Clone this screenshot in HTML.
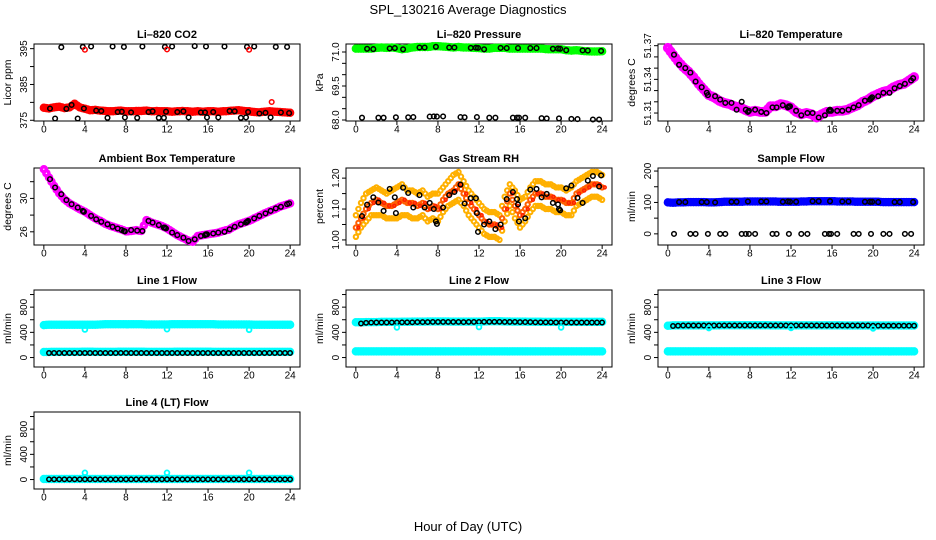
<!DOCTYPE html>
<html><head><meta charset="utf-8">
<style>
html,body{margin:0;padding:0;background:#fff;}
svg{display:block;font-family:"Liberation Sans",Arial,sans-serif;}
</style></head>
<body>
<svg id="chart" width="936" height="540" viewBox="0 0 936 540" xmlns="http://www.w3.org/2000/svg">
<text x="468" y="14" text-anchor="middle" font-size="13">SPL_130216  Average Diagnostics</text>
<text x="468" y="531" text-anchor="middle" font-size="13">Hour of Day (UTC)</text>
</svg>
<script>
const xTicks=[0,4,8,12,16,20,24];
const blackHours=[0.6,1.1,1.7,2.2,2.7,3.3,3.8,3.9,4.6,5.1,5.6,6.2,6.7,7.2,7.6,7.8,7.9,8.5,9.1,9.6,10.2,10.6,11.2,11.7,11.8,11.9,12.5,13.0,13.6,14.1,14.7,15.3,15.7,15.8,15.9,16.5,17.0,17.6,18.1,18.6,19.2,19.7,19.8,19.9,20.5,21.0,21.6,22.1,22.6,23.1,23.7,23.9];
const outlierHours=[4,12,20];

// CO2
const co2Red=[378.5,378.3,378.6,378.8,378.4,378.6,379.6,378.6,378.2,377.8,377.9,377.7,377.6,377.5,377.6,377.7,377.5,377.5,377.6,377.6,377.7,377.5,377.6,377.5,377.5,377.4,377.5,377.6,377.5,377.4,377.5,377.4,377.5,377.5,377.4,377.5,377.6,377.7,377.8,377.6,377.5,377.3,377.2,377.4,377.5,377.4,377.3,377.2,377.1];
const co2Black=[378.3,375.5,395.4,378.2,379.3,375.5,395.5,378.3,395.6,377.7,377.6,375.7,395.6,377.3,377.4,395.5,375.8,377.2,375.7,395.6,377.3,377.5,375.7,375.7,395.5,377.4,395.6,377.3,377.5,375.8,395.7,377.2,377.2,395.6,375.8,377.3,375.8,395.6,377.6,377.5,375.7,375.8,395.5,377.3,395.6,376.9,377.1,375.8,395.5,377.2,395.5,377.0];
const co2OutHours=[4,12,20,22.2];
const co2OutValues=[394.7,394.8,394.7,380.1];

// Pressure
const presGreen=[71.15,71.15,71.15,71.15,71.18,71.2,71.18,71.2,71.17,71.12,71.15,71.2,71.22,71.22,71.22,71.25,71.25,71.24,71.22,71.2,71.22,71.2,71.2,71.18,71.17,71.15,71.15,71.18,71.18,71.18,71.15,71.15,71.15,71.15,71.15,71.15,71.15,71.13,71.12,71.12,71.12,71.08,71.06,71.08,71.05,71.03,71.02,71.02,71.03];
const presBlack=[68.1,71.14,71.13,68.1,68.1,71.16,71.17,68.12,71.12,68.12,68.13,71.2,71.2,68.15,68.16,71.23,68.15,68.16,71.2,71.2,68.13,68.12,71.18,71.19,68.13,71.18,71.12,68.1,68.1,71.18,71.17,68.1,68.1,71.17,68.1,68.1,71.17,71.17,68.08,68.07,71.14,71.15,68.07,71.14,71.08,68.05,68.04,71.07,71.06,68.02,68.02,71.05];

// Li-820 temperature
const liTempMagenta=[51.368,51.362,51.356,51.351,51.347,51.342,51.336,51.331,51.326,51.324,51.321,51.319,51.318,51.316,51.315,51.313,51.311,51.312,51.311,51.311,51.316,51.316,51.318,51.317,51.315,51.311,51.309,51.310,51.309,51.306,51.309,51.311,51.311,51.312,51.312,51.313,51.315,51.317,51.320,51.322,51.325,51.327,51.329,51.330,51.333,51.335,51.336,51.339,51.342];
const liTempBlack=[51.362,51.353,51.350,51.346,51.338,51.333,51.328,51.326,51.325,51.322,51.319,51.319,51.313,51.320,51.313,51.311,51.312,51.313,51.311,51.310,51.315,51.315,51.317,51.315,51.316,51.316,51.312,51.308,51.310,51.310,51.306,51.308,51.312,51.313,51.312,51.312,51.312,51.313,51.315,51.317,51.321,51.322,51.323,51.324,51.325,51.328,51.328,51.332,51.334,51.336,51.339,51.341];

// Ambient box temperature
const ambMagenta=[33.5,32.5,31.5,30.6,29.9,29.4,29.05,28.7,28.4,28.0,27.6,27.3,26.95,26.7,26.5,26.3,26.05,26.1,26.2,26.1,27.4,27.1,26.9,26.7,26.4,26.0,25.6,25.3,25.0,24.8,25.5,25.6,25.7,25.8,25.9,26.1,26.25,26.6,26.9,27.1,27.3,27.6,27.9,28.2,28.45,28.7,29.0,29.2,29.4];
const ambBlack=[32.3,31.3,30.5,29.8,29.3,28.9,28.5,28.4,27.9,27.5,27.2,26.9,26.6,26.4,26.2,26.1,26.05,26.2,26.15,26.1,27.3,27.1,26.8,26.5,26.5,26.4,25.9,25.6,25.3,24.9,25.1,25.5,25.6,25.7,25.7,25.8,25.9,26.0,26.3,26.6,26.9,27.1,27.2,27.3,27.6,27.9,28.2,28.5,28.8,29.0,29.3,29.4];

// Gas stream RH
const rhUpper=[1.08,1.12,1.15,1.16,1.17,1.16,1.15,1.16,1.17,1.18,1.16,1.16,1.15,1.16,1.14,1.15,1.15,1.17,1.19,1.21,1.22,1.19,1.16,1.14,1.12,1.10,1.09,1.09,1.08,1.14,1.18,1.16,1.13,1.14,1.17,1.19,1.19,1.18,1.18,1.17,1.17,1.16,1.17,1.19,1.20,1.21,1.22,1.22,1.21];
const rhMid=[1.04,1.07,1.10,1.12,1.13,1.12,1.11,1.11,1.12,1.13,1.12,1.12,1.11,1.12,1.10,1.11,1.10,1.13,1.15,1.16,1.18,1.15,1.12,1.10,1.08,1.06,1.05,1.05,1.04,1.10,1.15,1.11,1.08,1.10,1.13,1.15,1.15,1.14,1.14,1.13,1.13,1.12,1.12,1.15,1.16,1.17,1.18,1.18,1.17];
const rhLower=[1.01,1.04,1.06,1.08,1.08,1.08,1.07,1.07,1.07,1.08,1.08,1.07,1.07,1.08,1.06,1.07,1.06,1.09,1.11,1.12,1.13,1.11,1.08,1.06,1.04,1.02,1.01,1.01,1.00,1.06,1.11,1.07,1.04,1.06,1.09,1.11,1.11,1.10,1.10,1.09,1.09,1.08,1.08,1.11,1.12,1.13,1.14,1.14,1.13];
const rhBlack=[1.077,1.114,1.138,1.121,1.094,1.165,1.138,1.087,1.169,1.152,1.105,1.145,1.105,1.12,1.10,1.06,1.052,1.105,1.145,1.155,1.179,1.118,1.135,1.135,1.087,1.026,1.05,1.06,1.035,1.05,1.132,1.155,1.132,1.115,1.06,1.07,1.163,1.165,1.138,1.149,1.12,1.115,1.10,1.096,1.167,1.176,1.136,1.12,1.192,1.207,1.173,1.209];

// Sample flow
const sampleBlue=[100,99,100,100,101,101,101,101,100,100,101,102,102,102,102,103,103,103,103,103,103,103,102,102,102,102,103,103,104,104,104,104,104,103,103,103,103,102,102,102,102,102,101,101,101,101,101,101,101];
const sampleBlack=[0,101,101,0,0,101,101,0,100,0,0,102,102,0,0,103,0,0,103,103,0,0,102,103,0,102,102,0,0,104,104,0,0,104,0,0,103,103,0,0,102,102,0,102,101,0,0,101,101,0,0,101];

// Line 1 flow
const l1CyanHigh=[515,520,520,522,522,522,522,522,522,520,522,525,528,528,528,528,528,528,528,528,525,525,525,525,525,528,528,528,528,528,530,530,530,528,525,525,525,525,525,525,525,522,522,522,522,522,522,522,522];
const l1CyanLow=[88,88,90,90,90,90,90,90,92,92,90,90,90,90,90,92,92,92,92,92,90,90,90,90,90,90,92,92,92,92,92,92,92,90,90,90,90,90,90,90,90,90,90,90,90,90,90,90,90];
const l1Black=[72,72,72,72,72,72,72,72,72,72,72,72,72,72,74,74,72,72,72,72,72,72,72,72,72,72,72,72,72,72,72,72,72,72,72,72,72,72,72,72,72,72,72,72,72,72,72,72];
const l1Out=[445,450,440];

// Line 2 flow
const l2CyanHigh=[560,560,562,562,562,565,565,565,565,568,568,570,570,570,572,572,572,572,572,570,570,570,570,570,570,572,575,575,575,572,572,570,570,570,568,568,568,565,565,565,565,565,565,565,565,565,565,565,565];
const l2CyanLow=[97,97,97,97,97,97,97,97,97,97,97,97,97,97,97,97,97,97,97,97,97,97,97,97,97,97,97,97,97,97,97,97,97,97,97,97,97,97,97,97,97,97,97,97,97,97,97,97,97];
const l2Black=[540,552,555,556,556,556,558,558,560,560,560,562,562,562,565,565,565,565,565,565,562,565,565,565,568,568,568,568,565,565,565,562,562,562,560,560,560,560,558,558,558,556,556,556,556,556,556,556];
const l2Out=[478,485,478];

// Line 3 flow
const l3CyanHigh=[505,510,510,510,510,510,510,510,510,510,510,512,512,512,512,512,512,512,512,512,510,510,510,510,510,510,510,510,510,510,510,510,510,510,510,508,508,508,508,508,508,508,508,508,508,508,508,508,508];
const l3CyanLow=[98,98,98,98,98,98,98,98,98,98,98,98,98,98,98,98,98,98,98,98,98,98,98,98,98,98,98,98,98,98,98,98,98,98,98,98,98,98,98,98,98,98,98,98,98,98,98,98,98];
const l3Black=[500,505,508,508,508,508,508,508,508,510,510,510,510,510,510,510,510,510,510,510,510,510,510,510,510,510,510,510,508,508,508,508,508,508,508,508,508,508,508,506,506,506,506,506,506,506,506,506];
const l3Out=[468,470,462];

// Line 4 flow
const l4CyanHigh=[8,8,8,8,8,8,8,8,8,8,8,8,8,8,8,8,8,8,8,8,8,8,8,8,8,8,8,8,8,8,8,8,8,8,8,8,8,8,8,8,8,8,8,8,8,8,8,8,8];
const l4Black=[4,4,4,4,4,4,4,4,4,4,4,4,4,4,4,4,4,4,4,4,4,4,4,4,4,4,4,4,4,4,4,4,4,4,4,4,4,4,4,4,4,4,4,4,4,4,4,4];
const l4Out=[107,107,107];

const svg=document.getElementById('chart');
const NS='http://www.w3.org/2000/svg';
const BW=266,BH=77;
const rowTops=[44,168,290,412];
function mk(tag,attrs,parent){const e=document.createElementNS(NS,tag);for(const k in attrs)e.setAttribute(k,attrs[k]);(parent||svg).appendChild(e);return e;}

const panels=[
 {key:'co2',col:0,row:0,title:'Li–820 CO2',ylab:'Licor ppm',ymin:374.8,ymax:396.3,ticks:[375,380,385,390,395],labels:['375','','385','','395']},
 {key:'pressure',col:1,row:0,title:'Li–820 Pressure',ylab:'kPa',ymin:67.956,ymax:71.353,ticks:[68,68.5,69,69.5,70,70.5,71],labels:['68.0','','','69.5','','','71.0']},
 {key:'li-temp',col:2,row:0,title:'Li–820 Temperature',ylab:'degrees C',ymin:51.3029,ymax:51.3715,ticks:[51.31,51.32,51.33,51.34,51.35,51.36,51.37],labels:['51.31','','','51.34','','','51.37']},
 {key:'ambient-temp',col:0,row:1,title:'Ambient Box Temperature',ylab:'degrees C',ymin:24.42,ymax:33.64,ticks:[26,28,30,32],labels:['26','','30','']},
 {key:'rh',col:1,row:1,title:'Gas Stream RH',ylab:'percent',ymin:0.9836,ymax:1.2328,ticks:[1.0,1.05,1.1,1.15,1.2],labels:['1.00','','1.10','','1.20']},
 {key:'sample-flow',col:2,row:1,title:'Sample Flow',ylab:'ml/min',ymin:-35.5,ymax:209.7,ticks:[0,50,100,150,200],labels:['0','','100','','200']},
 {key:'line1-flow',col:0,row:2,title:'Line 1 Flow',ylab:'ml/min',ymin:-150,ymax:1072,ticks:[0,200,400,600,800,1000],labels:['0','','400','','800','']},
 {key:'line2-flow',col:1,row:2,title:'Line 2 Flow',ylab:'ml/min',ymin:-150,ymax:1072,ticks:[0,200,400,600,800,1000],labels:['0','','400','','800','']},
 {key:'line3-flow',col:2,row:2,title:'Line 3 Flow',ylab:'ml/min',ymin:-150,ymax:1072,ticks:[0,200,400,600,800,1000],labels:['0','','400','','800','']},
 {key:'line4-flow',col:0,row:3,title:'Line 4 (LT) Flow',ylab:'ml/min',ymin:-150,ymax:1072,ticks:[0,200,400,600,800,1000],labels:['0','','400','','800','']}
];

function bx(p){return p.col*312+34;}
function by(p){return rowTops[p.row];}
function sx(p,h){return bx(p)+(h+0.96)*BW/25.92;}
function sy(p,v){return by(p)+(p.ymax-v)/(p.ymax-p.ymin)*BH;}

function pt(g,p,h,v,color,r,sw,name){
  const c=mk('circle',{cx:sx(p,h).toFixed(1),cy:sy(p,v).toFixed(1),r:r,fill:'none',stroke:color,'stroke-width':sw},g);
  
  
}
function evenSeries(g,p,arr,h0,h1,color,r,sw,name){
  const n=arr.length;
  for(let i=0;i<n;i++){pt(g,p,h0+i*(h1-h0)/(n-1),arr[i],color,r,sw,name);}
}
function band(g,p,arr,color,r,sw,name){
  const n=arr.length;
  for(let i=0;i<n;i++){
    pt(g,p,i*24/(n-1),arr[i],color,r,sw,name);
    if(i<n-1){pt(g,p,(i+0.5)*24/(n-1),(arr[i]+arr[i+1])/2,color,r,sw,name);}
  }
}
function timedSeries(g,p,hours,arr,color,r,sw,name){
  const n=Math.min(hours.length,arr.length);
  for(let i=0;i<n;i++){pt(g,p,hours[i],arr[i],color,r,sw,name);}
}

const G={};
panels.forEach(p=>{
  const g=mk('g',{});
  
  
  G[p.key]=g;
  const x0=bx(p),y0=by(p);
  const t=mk('text',{x:x0+BW/2,y:y0-6,'text-anchor':'middle','font-size':'11','font-weight':'bold'},g);
  t.textContent=p.title;
  
  
  const lx=p.col*312+11;
  const yl=mk('text',{x:lx,y:y0+BH/2,'text-anchor':'middle','font-size':'10.5',transform:'rotate(-90 '+lx+' '+(y0+BH/2)+')'},g);
  yl.textContent=p.ylab;
  
  
  const xa=mk('line',{x1:sx(p,xTicks[0]),x2:sx(p,xTicks[xTicks.length-1]),y1:y0+BH,y2:y0+BH,stroke:'#000','stroke-width':1},g);
  
  
  xTicks.forEach(h=>{
    const tk=mk('line',{x1:sx(p,h),x2:sx(p,h),y1:y0+BH,y2:y0+BH+4,stroke:'#000','stroke-width':1},g);
    
    
    const tl=mk('text',{x:sx(p,h),y:y0+BH+11.5,'text-anchor':'middle','font-size':'10'},g);
    tl.textContent=String(h);
    
    
  });
  const ya=mk('line',{x1:x0,x2:x0,y1:sy(p,p.ticks[0]),y2:sy(p,p.ticks[p.ticks.length-1]),stroke:'#000','stroke-width':1},g);
  
  
  p.ticks.forEach((v,i)=>{
    const yy=sy(p,v);
    const tk=mk('line',{x1:x0-4,x2:x0,y1:yy,y2:yy,stroke:'#000','stroke-width':1},g);
    
    
    if(p.labels[i]){
      const tx=x0-7;
      const tl=mk('text',{x:tx,y:yy,'text-anchor':'middle','font-size':'10',transform:'rotate(-90 '+tx+' '+yy+')'},g);
      tl.textContent=p.labels[i];
      
      
    }
  });
  const box=mk('rect',{x:x0,y:y0,width:BW,height:BH,fill:'none',stroke:'#000','stroke-width':1},g);
  
  
});
const P={};panels.forEach(p=>P[p.key]=p);

// CO2
band(G['co2'],P['co2'],co2Red,'#ff0000',2.5,3.5,'co2-red-point');
timedSeries(G['co2'],P['co2'],blackHours,co2Black,'#000',2.3,1.5,'co2-black-point');
timedSeries(G['co2'],P['co2'],co2OutHours,co2OutValues,'#ff0000',2.3,1.5,'co2-red-outlier');
// Pressure
band(G['pressure'],P['pressure'],presGreen,'#00ff00',2.5,3.5,'pressure-green-point');
timedSeries(G['pressure'],P['pressure'],blackHours,presBlack,'#000',2.3,1.5,'pressure-black-point');
// Li temp
band(G['li-temp'],P['li-temp'],liTempMagenta,'#ff00ff',3,4,'li-temp-magenta-point');
timedSeries(G['li-temp'],P['li-temp'],blackHours,liTempBlack,'#000',2.3,1.5,'li-temp-black-point');
// Ambient
band(G['ambient-temp'],P['ambient-temp'],ambMagenta,'#ff00ff',2.5,3.5,'ambient-magenta-point');
timedSeries(G['ambient-temp'],P['ambient-temp'],blackHours,ambBlack,'#000',2.3,1.5,'ambient-black-point');
// RH
band(G['rh'],P['rh'],rhUpper,'#ffb000',2.2,2,'rh-upper-point');
band(G['rh'],P['rh'],rhLower,'#ffb000',2.2,2,'rh-lower-point');
band(G['rh'],P['rh'],rhMid,'#ff6000',2.2,2,'rh-mid-point');
evenSeries(G['rh'],P['rh'],rhMid,0.25,24.25,'#ff2000',1.5,1.5,'rh-mid-point');
timedSeries(G['rh'],P['rh'],blackHours,rhBlack,'#000',2.3,1.5,'rh-black-point');
// Sample flow
band(G['sample-flow'],P['sample-flow'],sampleBlue,'#0000ff',2.5,3.5,'sample-blue-point');
timedSeries(G['sample-flow'],P['sample-flow'],blackHours,sampleBlack,'#000',2.3,1.5,'sample-black-point');
// Line flows
[['line1-flow',l1CyanHigh,l1CyanLow,l1Black,l1Out],['line2-flow',l2CyanHigh,l2CyanLow,l2Black,l2Out],['line3-flow',l3CyanHigh,l3CyanLow,l3Black,l3Out],['line4-flow',l4CyanHigh,null,l4Black,l4Out]].forEach(s=>{
  const g=G[s[0]],p=P[s[0]];
  band(g,p,s[1],'#00ffff',2.5,3.5,s[0]+'-cyan-high-point');
  if(s[2])band(g,p,s[2],'#00ffff',2.5,3.5,s[0]+'-cyan-low-point');
  evenSeries(g,p,s[3],0.5,24,'#000',2.2,1.5,s[0]+'-black-point');
  timedSeries(g,p,outlierHours,s[4],'#00ffff',2.4,1.8,s[0]+'-cyan-outlier');
});
</script>
</body></html>
